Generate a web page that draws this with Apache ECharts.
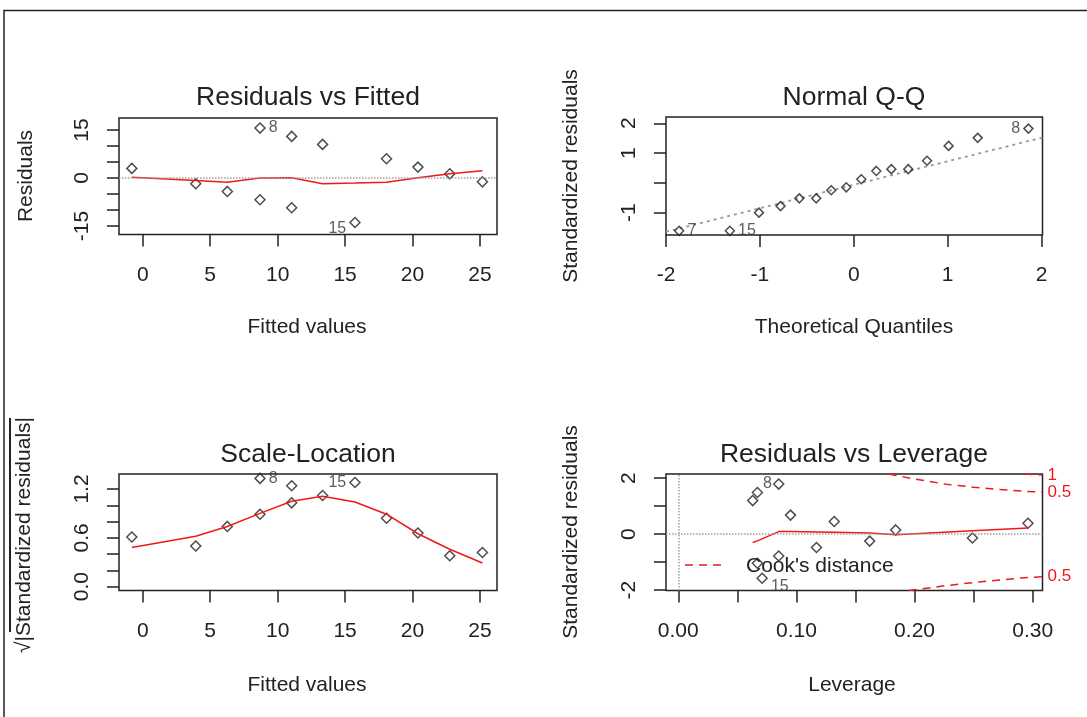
<!DOCTYPE html>
<html>
<head>
<meta charset="utf-8">
<script src="https://cdn.jsdelivr.net/npm/echarts@6/dist/echarts.min.js"></script>
<style>html,body{margin:0;padding:0;background:#fff;}#c{width:1087px;height:717px;}</style>
</head>
<body>
<div id="c"></div>
<script>
// ---------- data ----------
// Residuals vs Fitted
const rvfFitted = [-0.81, 3.93, 6.27, 8.69, 8.69, 11.04, 11.04, 13.33, 15.73, 18.07, 20.4, 22.76, 25.18];
const rvfResid  = [3.0, -1.8, -4.2, 15.6, -6.8, 13.0, -9.3, 10.5, -13.9, 6.0, 3.4, 1.3, -1.2];
const rvfSmoothX = [-0.81, 3.93, 6.27, 8.69, 11.04, 13.33, 15.73, 18.07, 20.4, 22.76, 25.18];
const rvfSmoothY = [0.2, -0.8, -1.3, 0.0, 0.1, -1.8, -1.6, -1.3, 0.1, 1.3, 2.3];
const rvfIdIndex = [3, 8];
const rvfIdText  = ['8', '15'];
const rvfXTicks = [0, 5, 10, 15, 20, 25];
const rvfYTicks = [-15, -10, -5, 0, 5, 10, 15];
const rvfYLabels = [-15, 0, 15];

// Normal Q-Q
const qqTheo = [-1.86, -1.32, -1.01, -0.78, -0.58, -0.40, -0.24, -0.08, 0.08, 0.24, 0.40, 0.58, 0.78, 1.01, 1.32, 1.86];
const qqStd  = [-1.61, -1.61, -1.00, -0.78, -0.52, -0.52, -0.25, -0.15, 0.12, 0.40, 0.46, 0.46, 0.74, 1.24, 1.51, 1.82];
const qqLineX = [-2.0, 2.01];
const qqLineY = [-1.64, 1.52];
const qqIdIndex = [0, 1, 15];
const qqIdText  = ['7', '15', '8'];
const qqXTicks = [-2, -1, 0, 1, 2];
const qqYTicks = [-1, 0, 1, 2];
const qqYLabels = [-1, 1, 2];

// Scale-Location
const slFitted = [-0.81, 3.93, 6.27, 8.69, 8.69, 11.04, 11.04, 13.33, 15.73, 18.07, 20.4, 22.76, 25.18];
const slSqrt   = [0.61, 0.50, 0.74, 1.33, 0.89, 1.24, 1.03, 1.12, 1.28, 0.84, 0.66, 0.38, 0.42];
const slSmoothX = [-0.81, 3.93, 6.27, 8.69, 11.04, 13.33, 15.73, 18.07, 20.4, 22.76, 25.18];
const slSmoothY = [0.48, 0.62, 0.74, 0.90, 1.05, 1.11, 1.04, 0.89, 0.65, 0.46, 0.29];
const slIdIndex = [3, 8];
const slIdText  = ['8', '15'];
const slYTicks = [0, 0.2, 0.4, 0.6, 0.8, 1.0, 1.2];
const slYLabels = [0, 0.6, 1.2];

// Residuals vs Leverage
const levH   = [0.063, 0.067, 0.085, 0.095, 0.132, 0.117, 0.162, 0.184, 0.249, 0.296, 0.085, 0.067, 0.071];
const levStd = [1.20, 1.49, 1.79, 0.68, 0.45, -0.48, -0.25, 0.15, -0.14, 0.39, -0.78, -1.04, -1.58];
const levSmoothH = [0.063, 0.067, 0.085, 0.095, 0.117, 0.132, 0.162, 0.184, 0.249, 0.296];
const levSmoothY = [-0.30, -0.24, 0.09, 0.09, 0.08, 0.07, 0.04, -0.02, 0.12, 0.22];
const cookUp05H = [0.178, 0.199, 0.227, 0.25, 0.27, 0.29, 0.3083];
const cookUp05Y = [2.15, 1.98, 1.78, 1.68, 1.60, 1.54, 1.50];
const cookLo05H = [0.195, 0.227, 0.25, 0.27, 0.29, 0.3083];
const cookLo05Y = [-2.016, -1.84, -1.73, -1.65, -1.57, -1.52];
const cookUp1H = [0.293, 0.3083];
const cookUp1Y = [2.15, 2.11];
const levIdIndex = [2, 12];
const levIdText  = ['8', '15'];
const levXTicks = [0, 0.05, 0.10, 0.15, 0.20, 0.25, 0.30];
const levXLabels = [0, 0.10, 0.20, 0.30];
const levYTicks = [-2, -1, 0, 1, 2];
const levYLabels = [-2, 0, 2];

// ---------- chart ----------
const FONT = 'Liberation Sans, Arial, sans-serif';
const INK = '#222';
const RED = '#f01818';
const chart = echarts.init(document.getElementById('c'), null, {renderer: 'canvas'});

function pairs(xs, ys) { return xs.map((x, i) => [x, ys[i]]); }

function labeled(xs, ys, idIdx, idText, positions) {
  return xs.map((x, i) => {
    const k = idIdx.indexOf(i);
    const item = {value: [x, ys[i]]};
    if (k >= 0) {
      const p = positions[k];
      item.label = {show: true, formatter: idText[k], position: p.pos, offset: p.offset || [0, 0],
        distance: 3, fontFamily: FONT, fontSize: 16, color: '#333'};
    }
    return item;
  });
}

function xAxis(gi, min, max, ticks, labels, fmt) {
  return {type: 'value', gridIndex: gi, min, max,
    axisLine: {show: false, onZero: false}, splitLine: {show: false},
    axisTick: {show: true, length: 12, customValues: ticks, lineStyle: {color: INK, width: 1.5}},
    axisLabel: {customValues: labels, margin: 30, fontFamily: FONT, fontSize: 21, color: INK,
      formatter: fmt || (v => String(v))}};
}
function yAxis(gi, min, max, ticks, labels, fmt) {
  return {type: 'value', gridIndex: gi, min, max,
    axisLine: {show: false, onZero: false}, splitLine: {show: false},
    axisTick: {show: true, length: 12, customValues: ticks, lineStyle: {color: INK, width: 1.5}},
    axisLabel: {customValues: labels, rotate: 90, margin: 26, fontFamily: FONT, fontSize: 21, color: INK,
      formatter: fmt || (v => String(v))}};
}

const pointStyle = {color: 'rgba(0,0,0,0)', borderColor: INK, borderWidth: 1.5};
const dotted = {type: 'dotted', color: '#a0a0a0', width: 1.5};

function scatter(gi, data, size) {
  return {type: 'scatter', xAxisIndex: gi, yAxisIndex: gi, data, symbol: 'diamond',
    symbolSize: size || 10, itemStyle: pointStyle, z: 3, silent: true};
}
function line(gi, data, extra) {
  return Object.assign({type: 'line', xAxisIndex: gi, yAxisIndex: gi, data, symbol: 'none',
    smooth: false, clip: true, silent: true, lineStyle: {color: RED, width: 1.5}, z: 4}, extra || {});
}
function hline(gi) {
  return {type: 'line', xAxisIndex: gi, yAxisIndex: gi, data: [], silent: true,
    markLine: {silent: true, symbol: 'none', label: {show: false}, lineStyle: dotted, data: [{yAxis: 0}]}};
}

const gridBase = {show: true, borderColor: INK, borderWidth: 1.5, backgroundColor: 'rgba(0,0,0,0)', containLabel: false};

function txt(text, x, y, size, rot, color) {
  return {type: 'text', x, y, rotation: rot || 0, z: 10, silent: true,
    style: {text, fontFamily: FONT, fontSize: size, fill: color || INK, align: 'center', verticalAlign: 'middle'}};
}

const cookLabel = (t) => ({show: true, formatter: t, color: RED, fontFamily: FONT, fontSize: 17, distance: 5});

const option = {
  backgroundColor: '#fff',
  animation: false,
  grid: [
    Object.assign({left: 119, top: 118, width: 378, height: 116.5}, gridBase),
    Object.assign({left: 666, top: 117, width: 376.5, height: 118}, gridBase),
    Object.assign({left: 119, top: 474, width: 378, height: 116.5}, gridBase),
    Object.assign({left: 666, top: 474, width: 376.5, height: 116.5}, gridBase)
  ],
  xAxis: [
    xAxis(0, -1.76, 26.26, rvfXTicks, rvfXTicks),
    xAxis(1, -2.0, 2.01, qqXTicks, qqXTicks),
    xAxis(2, -1.76, 26.26, rvfXTicks, rvfXTicks),
    xAxis(3, -0.0104, 0.3083, levXTicks, levXLabels, v => v.toFixed(2))
  ],
  yAxis: [
    yAxis(0, -17.66, 18.75, rvfYTicks, rvfYLabels),
    yAxis(1, -1.75, 2.21, qqYTicks, qqYLabels),
    yAxis(2, -0.047, 1.384, slYTicks, slYLabels, v => v.toFixed(1)),
    yAxis(3, -2.016, 2.15, levYTicks, levYLabels)
  ],
  series: [
    // panel 1
    hline(0),
    scatter(0, labeled(rvfFitted, rvfResid, rvfIdIndex, rvfIdText,
      [{pos: 'right'}, {pos: 'left', offset: [0, 6]}])),
    line(0, pairs(rvfSmoothX, rvfSmoothY)),
    // panel 2
    line(1, pairs(qqLineX, qqLineY), {lineStyle: {type: [3, 4], color: '#999', width: 1.8}, z: 2}),
    scatter(1, labeled(qqTheo, qqStd, qqIdIndex, qqIdText,
      [{pos: 'right'}, {pos: 'right'}, {pos: 'left'}]), 9),
    // panel 3
    scatter(2, labeled(slFitted, slSqrt, slIdIndex, slIdText,
      [{pos: 'right'}, {pos: 'left'}])),
    line(2, pairs(slSmoothX, slSmoothY)),
    // panel 4
    {type: 'line', xAxisIndex: 3, yAxisIndex: 3, data: [], silent: true,
      markLine: {silent: true, symbol: 'none', label: {show: false}, lineStyle: dotted,
        data: [{yAxis: 0}, {xAxis: 0}]}},
    scatter(3, labeled(levH, levStd, levIdIndex, levIdText,
      [{pos: 'left', offset: [2, 0]}, {pos: 'right', offset: [0, 8]}])),
    line(3, pairs(levSmoothH, levSmoothY)),
    line(3, pairs(cookUp05H, cookUp05Y), {lineStyle: {color: RED, width: 1.5, type: [8, 6]}, endLabel: cookLabel('0.5')}),
    line(3, pairs(cookLo05H, cookLo05Y), {lineStyle: {color: RED, width: 1.5, type: [8, 6]}, endLabel: cookLabel('0.5')}),
    line(3, pairs(cookUp1H, cookUp1Y), {lineStyle: {color: RED, width: 1.5, type: [8, 6]}, endLabel: cookLabel('1')})
  ],
  graphic: [
    // outer frame
    {type: 'polyline', silent: true, shape: {points: [[4, 717], [4, 10.5], [1087, 10.5]]},
      style: {stroke: INK, lineWidth: 1.5, fill: null}},
    // titles
    txt('Residuals vs Fitted', 308, 98, 26.5),
    txt('Normal Q-Q', 854, 98, 26.5),
    txt('Scale-Location', 308, 455, 26.5),
    txt('Residuals vs Leverage', 854, 455, 26.5),
    // x axis names
    txt('Fitted values', 307, 327, 21),
    txt('Theoretical Quantiles', 854, 327, 21),
    txt('Fitted values', 307, 685, 21),
    txt('Leverage', 852, 685, 21),
    // y axis names
    txt('Residuals', 26, 176, 21, Math.PI / 2),
    txt('Standardized residuals', 571, 176, 21, Math.PI / 2),
    txt('\u221A|Standardized residuals|', 24, 535, 21, Math.PI / 2),
    txt('Standardized residuals', 571, 532, 21, Math.PI / 2),
    {type: 'line', silent: true, shape: {x1: 10, y1: 418, x2: 10, y2: 632}, style: {stroke: INK, lineWidth: 2}},
    // Cook's distance legend
    {type: 'line', silent: true, z: 10, shape: {x1: 685, y1: 565, x2: 722, y2: 565},
      style: {stroke: RED, lineWidth: 1.5, lineDash: [8, 6]}},
    {type: 'text', x: 746, y: 566, z: 10, silent: true,
      style: {text: "Cook's distance", fontFamily: FONT, fontSize: 21, fill: INK, align: 'left', verticalAlign: 'middle'}}
  ]
};
chart.setOption(option);
</script>
</body>
</html>
